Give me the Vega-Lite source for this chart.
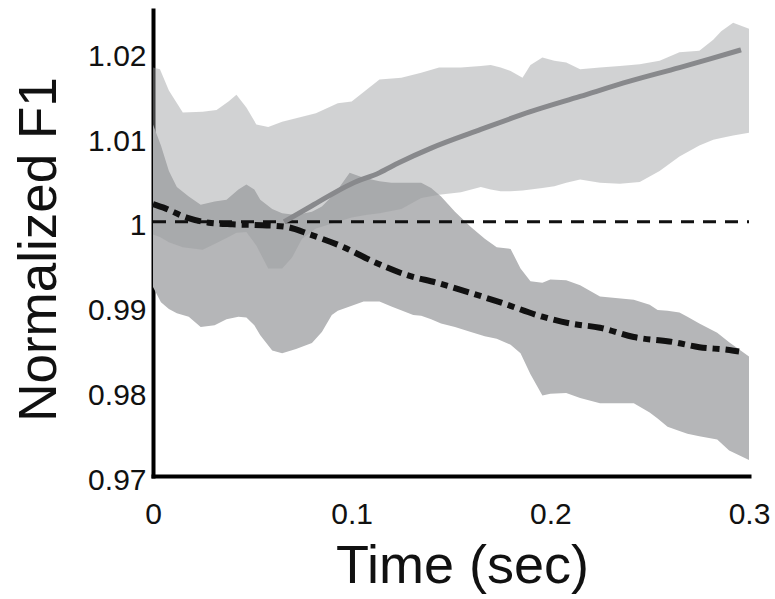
{
  "$schema": "https://vega.github.io/schema/vega-lite/v6.json",
  "autosize": "none",
  "width": 596,
  "height": 466,
  "padding": {"left": 153, "top": 10, "right": 26, "bottom": 123},
  "background": "white",
  "config": {
    "view": {"stroke": null},
    "font": "Liberation Sans"
  },
  "datasets": {
    "lowBand": [
      {"t": 0, "lo": 0.9923, "hi": 1.0115},
      {"t": 0.004, "lo": 0.9905, "hi": 1.009},
      {"t": 0.008, "lo": 0.9897, "hi": 1.006},
      {"t": 0.012, "lo": 0.9892, "hi": 1.0041},
      {"t": 0.018, "lo": 0.9888, "hi": 1.003},
      {"t": 0.024, "lo": 0.9876, "hi": 1.002},
      {"t": 0.031, "lo": 0.9878, "hi": 1.0024},
      {"t": 0.037, "lo": 0.9885, "hi": 1.0026},
      {"t": 0.043, "lo": 0.9888, "hi": 1.0038},
      {"t": 0.047, "lo": 0.9887, "hi": 1.0044},
      {"t": 0.051, "lo": 0.9878, "hi": 1.0038},
      {"t": 0.054, "lo": 0.9866, "hi": 1.0026},
      {"t": 0.06, "lo": 0.9848, "hi": 1.0015},
      {"t": 0.065, "lo": 0.9845, "hi": 1.001},
      {"t": 0.072, "lo": 0.985, "hi": 1.0008},
      {"t": 0.08, "lo": 0.9857, "hi": 1.0012},
      {"t": 0.085, "lo": 0.987, "hi": 1.0018},
      {"t": 0.09, "lo": 0.989, "hi": 1.003},
      {"t": 0.093, "lo": 0.9895, "hi": 1.0038},
      {"t": 0.099, "lo": 0.99, "hi": 1.0058},
      {"t": 0.106, "lo": 0.9906, "hi": 1.0052},
      {"t": 0.114, "lo": 0.9906, "hi": 1.0048},
      {"t": 0.12, "lo": 0.99, "hi": 1.0046},
      {"t": 0.131, "lo": 0.989, "hi": 1.0046},
      {"t": 0.135, "lo": 0.9889, "hi": 1.0046},
      {"t": 0.14, "lo": 0.9885, "hi": 1.004},
      {"t": 0.145, "lo": 0.988, "hi": 1.003},
      {"t": 0.152, "lo": 0.9876, "hi": 1.0012},
      {"t": 0.16, "lo": 0.987, "hi": 0.9994},
      {"t": 0.167, "lo": 0.9865, "hi": 0.998},
      {"t": 0.173, "lo": 0.9862, "hi": 0.997},
      {"t": 0.18, "lo": 0.9855, "hi": 0.9968},
      {"t": 0.185, "lo": 0.9845, "hi": 0.9945},
      {"t": 0.19, "lo": 0.982, "hi": 0.993},
      {"t": 0.196, "lo": 0.9795, "hi": 0.9928},
      {"t": 0.2, "lo": 0.9797, "hi": 0.9932},
      {"t": 0.208, "lo": 0.9798, "hi": 0.9931},
      {"t": 0.215, "lo": 0.9792, "hi": 0.9925},
      {"t": 0.225, "lo": 0.9786, "hi": 0.9912},
      {"t": 0.242, "lo": 0.9786, "hi": 0.9908},
      {"t": 0.25, "lo": 0.9775, "hi": 0.9902},
      {"t": 0.254, "lo": 0.9768, "hi": 0.9896},
      {"t": 0.259, "lo": 0.9758, "hi": 0.9895},
      {"t": 0.265, "lo": 0.9753, "hi": 0.9893},
      {"t": 0.269, "lo": 0.975, "hi": 0.9888},
      {"t": 0.275, "lo": 0.9747, "hi": 0.988},
      {"t": 0.284, "lo": 0.9743, "hi": 0.9869},
      {"t": 0.29, "lo": 0.973, "hi": 0.9858},
      {"t": 0.3, "lo": 0.9719, "hi": 0.9841}
    ],
    "highBand": [
      {"t": 0, "lo": 0.9985, "hi": 1.0182},
      {"t": 0.0035, "lo": 0.9982, "hi": 1.018},
      {"t": 0.008, "lo": 0.9976, "hi": 1.0155},
      {"t": 0.015, "lo": 0.997, "hi": 1.0129},
      {"t": 0.025, "lo": 0.9967, "hi": 1.013},
      {"t": 0.032, "lo": 0.9975, "hi": 1.0132},
      {"t": 0.038, "lo": 0.9982, "hi": 1.0142},
      {"t": 0.042, "lo": 0.9987, "hi": 1.015},
      {"t": 0.047, "lo": 0.9988, "hi": 1.0135},
      {"t": 0.052, "lo": 0.9972, "hi": 1.0115},
      {"t": 0.058, "lo": 0.9945, "hi": 1.0112},
      {"t": 0.065, "lo": 0.9945, "hi": 1.0118},
      {"t": 0.07, "lo": 0.9958, "hi": 1.0121},
      {"t": 0.075, "lo": 0.998, "hi": 1.0124},
      {"t": 0.082, "lo": 0.9992, "hi": 1.0128},
      {"t": 0.093, "lo": 1.0, "hi": 1.014},
      {"t": 0.1, "lo": 1.0005, "hi": 1.0142},
      {"t": 0.107, "lo": 1.0008, "hi": 1.0155},
      {"t": 0.114, "lo": 1.001, "hi": 1.0168},
      {"t": 0.125, "lo": 1.0015, "hi": 1.017},
      {"t": 0.135, "lo": 1.0028, "hi": 1.0176},
      {"t": 0.144, "lo": 1.0032, "hi": 1.0182},
      {"t": 0.155, "lo": 1.0035, "hi": 1.0182},
      {"t": 0.165, "lo": 1.0041, "hi": 1.0184},
      {"t": 0.17, "lo": 1.0038, "hi": 1.0185},
      {"t": 0.175, "lo": 1.0036, "hi": 1.0182},
      {"t": 0.18, "lo": 1.0036, "hi": 1.0178},
      {"t": 0.186, "lo": 1.0037, "hi": 1.017},
      {"t": 0.19, "lo": 1.0038, "hi": 1.0185},
      {"t": 0.196, "lo": 1.004, "hi": 1.0194},
      {"t": 0.202, "lo": 1.0042, "hi": 1.019},
      {"t": 0.208, "lo": 1.0046, "hi": 1.0188},
      {"t": 0.215, "lo": 1.005, "hi": 1.018},
      {"t": 0.225, "lo": 1.0046, "hi": 1.0182},
      {"t": 0.235, "lo": 1.0045, "hi": 1.0184},
      {"t": 0.245, "lo": 1.0047, "hi": 1.0186},
      {"t": 0.255, "lo": 1.006, "hi": 1.019},
      {"t": 0.265, "lo": 1.0077, "hi": 1.02},
      {"t": 0.275, "lo": 1.009, "hi": 1.0202},
      {"t": 0.282, "lo": 1.0097, "hi": 1.0215},
      {"t": 0.286, "lo": 1.0099, "hi": 1.0225},
      {"t": 0.292, "lo": 1.0102, "hi": 1.0235},
      {"t": 0.3, "lo": 1.0105, "hi": 1.0228}
    ],
    "baseline": [
      {"t": 0, "v": 1.0},
      {"t": 0.3, "v": 1.0}
    ],
    "highMean": [
      {"t": 0.066, "v": 1.0},
      {"t": 0.08, "v": 1.0019},
      {"t": 0.1, "v": 1.0045},
      {"t": 0.114, "v": 1.0058},
      {"t": 0.124, "v": 1.007},
      {"t": 0.14, "v": 1.0087},
      {"t": 0.165, "v": 1.0109},
      {"t": 0.19, "v": 1.013},
      {"t": 0.215, "v": 1.0148},
      {"t": 0.24, "v": 1.0166},
      {"t": 0.265, "v": 1.0182},
      {"t": 0.28, "v": 1.0192},
      {"t": 0.296, "v": 1.0203}
    ],
    "lowMean": [
      {"t": 0, "v": 1.0021},
      {"t": 0.005, "v": 1.0017},
      {"t": 0.017, "v": 1.0005},
      {"t": 0.028, "v": 0.9999},
      {"t": 0.04, "v": 0.9997},
      {"t": 0.055, "v": 0.9996},
      {"t": 0.067, "v": 0.9994},
      {"t": 0.079, "v": 0.9985},
      {"t": 0.096, "v": 0.997},
      {"t": 0.111, "v": 0.9953},
      {"t": 0.128, "v": 0.9937},
      {"t": 0.143, "v": 0.9928},
      {"t": 0.16, "v": 0.9916},
      {"t": 0.176, "v": 0.9904},
      {"t": 0.196, "v": 0.9888},
      {"t": 0.21, "v": 0.988},
      {"t": 0.225, "v": 0.9875},
      {"t": 0.242, "v": 0.9864},
      {"t": 0.262, "v": 0.9858},
      {"t": 0.275, "v": 0.9852},
      {"t": 0.289, "v": 0.9849},
      {"t": 0.295, "v": 0.9847}
    ]
  },
  "encoding": {
    "x": {
      "field": "t",
      "type": "quantitative",
      "scale": {"domain": [0, 0.3], "nice": false, "zero": false},
      "axis": {
        "title": "Time (sec)",
        "values": [0, 0.1, 0.2, 0.3],
        "format": "~g",
        "grid": false,
        "ticks": false,
        "domainColor": "black",
        "domainWidth": 4,
        "domainCap": "square",
        "labelFont": "Liberation Sans",
        "labelFontSize": 30,
        "labelColor": "#111111",
        "labelPadding": 23,
        "labelFlush": false,
        "labelOverlap": false,
        "titleFont": "Liberation Sans",
        "titleFontSize": 54,
        "titleFontWeight": "normal",
        "titleColor": "#111111",
        "titleBaseline": "alphabetic",
        "titleX": 309,
        "titleY": 106
      }
    }
  },
  "layer": [
    {
      "data": {"name": "lowBand"},
      "mark": {"type": "area", "color": "#b5b6b8", "opacity": 1},
      "encoding": {
        "y": {
          "field": "lo",
          "type": "quantitative",
          "scale": {"domain": [0.97, 1.025], "nice": false, "zero": false},
          "axis": {
            "title": "Normalized F1",
            "values": [0.97, 0.98, 0.99, 1.0, 1.01, 1.02],
            "format": "~g",
            "grid": false,
            "ticks": false,
            "domainColor": "black",
            "domainWidth": 4,
            "domainCap": "square",
            "labelFont": "Liberation Sans",
            "labelFontSize": 30,
            "labelColor": "#111111",
            "labelPadding": 7,
            "labelOffset": 4,
            "labelFlush": false,
            "labelOverlap": false,
            "titleFont": "Liberation Sans",
            "titleFontSize": 53,
            "titleFontWeight": "normal",
            "titleColor": "#111111",
            "titleBaseline": "alphabetic",
            "titleAngle": -90,
            "titleX": -98,
            "titleY": 239
          }
        },
        "y2": {"field": "hi"}
      }
    },
    {
      "data": {"name": "highBand"},
      "mark": {"type": "area", "color": "#9a9b9e", "opacity": 0.45},
      "encoding": {
        "y": {"field": "lo", "type": "quantitative"},
        "y2": {"field": "hi"}
      }
    },
    {
      "data": {"name": "baseline"},
      "mark": {"type": "line", "color": "#111111", "strokeWidth": 3, "strokeDash": [13, 9]},
      "encoding": {
        "y": {"field": "v", "type": "quantitative"}
      }
    },
    {
      "data": {"name": "highMean"},
      "mark": {"type": "line", "color": "#88898c", "strokeWidth": 5, "interpolate": "monotone"},
      "encoding": {
        "y": {"field": "v", "type": "quantitative"}
      }
    },
    {
      "data": {"name": "lowMean"},
      "mark": {"type": "line", "color": "#111111", "strokeWidth": 6, "strokeDash": [16, 6, 7, 6], "interpolate": "monotone"},
      "encoding": {
        "y": {"field": "v", "type": "quantitative"}
      }
    }
  ]
}
